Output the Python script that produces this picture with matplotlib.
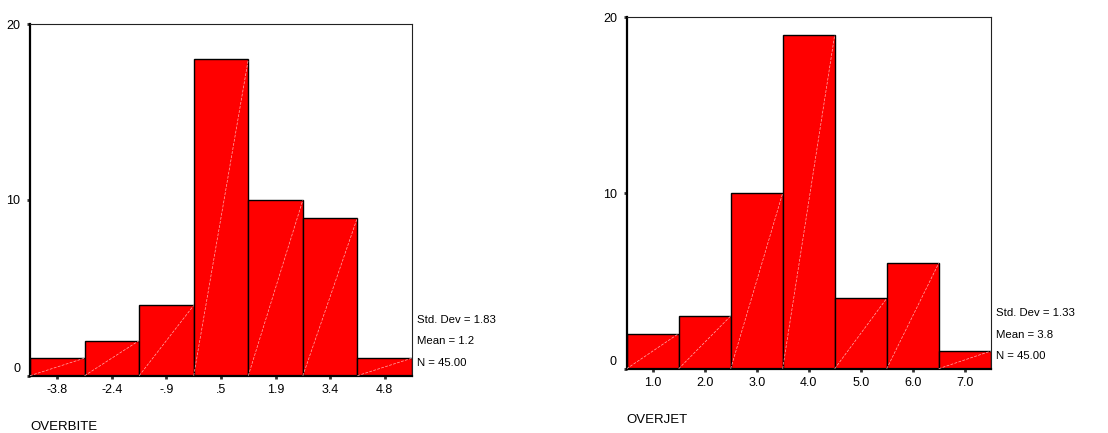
import matplotlib
matplotlib.use("Agg")
import matplotlib.pyplot as plt
import matplotlib.transforms as mtransforms
import numpy as np

plt.rcParams['font.family'] = ['Liberation Sans', 'DejaVu Sans']

# Data
overbite_labels = ["-3.8", "-2.4", "-.9", ".5", "1.9", "3.4", "4.8"]
overbite_first, overbite_last = -3.8, 4.8
overbite_counts = [1, 2, 4, 18, 10, 9, 1]
overbite_stats = ["Std. Dev = 1.83", "Mean = 1.2", "N = 45.00"]

overjet_labels = ["1.0", "2.0", "3.0", "4.0", "5.0", "6.0", "7.0"]
overjet_first, overjet_last = 1.0, 7.0
overjet_counts = [2, 3, 10, 19, 4, 6, 1]
overjet_stats = ["Std. Dev = 1.33", "Mean = 3.8", "N = 45.00"]

W, H = 1108, 433
fig = plt.figure(figsize=(W / 100, H / 100), dpi=100)


def draw(rect, labels, first, last, counts, stats, xlabel, stats_xy, xlabel_xy):
    ax = fig.add_axes(rect)
    n = len(counts)
    width = (last - first) / (n - 1)
    centers = first + width * np.arange(n)
    ax.bar(centers, counts, width=width, color="#ff0000", edgecolor="black",
           linewidth=1.0, zorder=2)
    for c, h in zip(centers, counts):
        ax.plot([c - width / 2, c + width / 2], [0, h], color="#ffb0b0",
                lw=0.5, ls=(0, (4, 2)), zorder=3)
    ax.set_xlim(first - width / 2, last + width / 2)
    ax.set_ylim(0, 20)
    ax.set_xticks(centers)
    ax.set_xticklabels(labels, fontsize=9)
    ax.set_yticks([0, 10, 20])
    ax.set_yticklabels(["0", "10", "20"], fontsize=9)
    ax.tick_params(axis="both", direction="out", length=2, width=2, pad=4,
                   color="#333333")
    ax.tick_params(axis="y", pad=5)
    for s in ["left", "bottom"]:
        ax.spines[s].set_linewidth(1.6)
        ax.spines[s].set_color("black")
    for s in ["top", "right"]:
        ax.spines[s].set_linewidth(0.8)
        ax.spines[s].set_color("#222222")
    # shift "0" label upward slightly
    lab0 = ax.get_yticklabels()[0]
    lab0.set_transform(lab0.get_transform() +
                       mtransforms.ScaledTranslation(0, 6 / 72, fig.dpi_scale_trans))
    sx, sy = stats_xy
    for i, s in enumerate(stats):
        fig.text(sx / W, 1 - (sy + i * 21.5) / H, s, fontsize=8.2,
                 ha="left", va="center")
    fig.text(xlabel_xy[0] / W, 1 - xlabel_xy[1] / H, xlabel, fontsize=9.5,
             ha="left", va="center")
    return ax


draw([30 / W, 57.3 / H, 382 / W, 351.4 / H], overbite_labels, overbite_first,
     overbite_last, overbite_counts, overbite_stats, "OVERBITE",
     (417, 320), (30, 427))
draw([626.7 / W, 64.3 / H, 364 / W, 351.4 / H], overjet_labels, overjet_first,
     overjet_last, overjet_counts, overjet_stats, "OVERJET",
     (996, 313), (626, 420))

fig.savefig("out.png", dpi=100)
